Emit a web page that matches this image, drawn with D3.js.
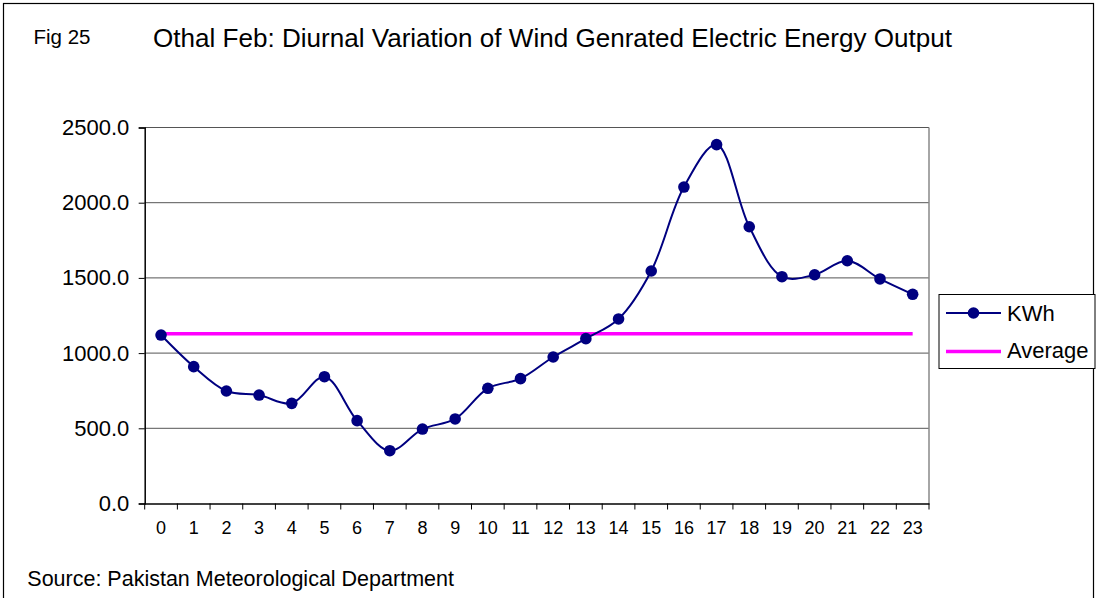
<!DOCTYPE html>
<html><head><meta charset="utf-8">
<script src="https://cdn.jsdelivr.net/npm/d3@7"></script>
<style>body{margin:0;background:#fff;} svg{display:block;} text{font-family:"Liberation Sans",Arial,sans-serif;fill:#000;}</style>
</head><body>
<script>
const hours = d3.range(0, 24).map(String);
const kwh = [1120, 910, 748, 721, 666, 843, 551, 351, 495, 562, 766, 830, 974, 1096, 1227, 1546, 2104, 2386, 1840, 1508, 1521, 1614, 1493, 1391];
const average = 1129;
const yTicks = [0, 500, 1000, 1500, 2000, 2500];
const seriesNames = ["KWh", "Average"];

const W = 1097, H = 598;
const svg = d3.select("body").append("svg").attr("width", W).attr("height", H);
svg.append("rect").attr("x", 3.5).attr("y", 3.5).attr("width", 1090).attr("height", 610)
  .attr("fill", "#fff").attr("stroke", "#000").attr("stroke-width", 1.2);

const L = 144.7, R = 929, T = 127.5, B = 503.5;
const x = d3.scaleBand().domain(hours).range([L, R]);
const y = d3.scaleLinear().domain([0, 2500]).range([B, T]);

// gridlines
svg.append("g").selectAll("line").data(yTicks.filter(d => d > 0)).join("line")
  .attr("x1", L).attr("x2", R).attr("y1", d => y(d)).attr("y2", d => y(d))
  .attr("stroke", "#555").attr("stroke-width", 1);
svg.append("line").attr("x1", R).attr("x2", R).attr("y1", T).attr("y2", B).attr("stroke", "#888").attr("stroke-width", 1.5);

// y axis
const ya = svg.append("g").attr("transform", `translate(${L},0)`)
  .call(d3.axisLeft(y).tickValues(yTicks).tickFormat(d3.format(".1f")).tickSize(6).tickPadding(9.4));
ya.select(".domain").attr("stroke", "#000").attr("stroke-width", 1.5);
ya.selectAll(".tick line").attr("stroke", "#000");
ya.selectAll("text").style("font-size", "22px").style("font-family", "Liberation Sans, Arial, sans-serif");

// x axis
const xa = svg.append("g").attr("transform", `translate(0,${B})`)
  .call(d3.axisBottom(x).tickSize(0).tickPadding(17.5));
xa.select(".domain").attr("stroke", "#000").attr("stroke-width", 1.5);
xa.selectAll("text").style("font-size", "18px").style("font-family", "Liberation Sans, Arial, sans-serif");
const bounds = hours.map(h => x(h)).concat([R]);
svg.append("g").selectAll("line").data(bounds).join("line")
  .attr("x1", d => d).attr("x2", d => d).attr("y1", B).attr("y2", B + 6)
  .attr("stroke", "#000").attr("stroke-width", 1);

const cx = h => x(h) + x.bandwidth() / 2;

// average line
svg.append("line").attr("x1", cx(hours[0])).attr("x2", cx(hours[hours.length - 1]))
  .attr("y1", y(average)).attr("y2", y(average))
  .attr("stroke", "#ff00ff").attr("stroke-width", 3.5);

// kwh line
const line = d3.line().x((d, i) => cx(hours[i])).y(d => y(d)).curve(d3.curveCatmullRom.alpha(0.5));
svg.append("path").datum(kwh).attr("d", line).attr("fill", "none")
  .attr("stroke", "#000080").attr("stroke-width", 2);
svg.append("g").selectAll("circle").data(kwh).join("circle")
  .attr("cx", (d, i) => cx(hours[i])).attr("cy", d => y(d)).attr("r", 5.8).attr("fill", "#000080");

// titles
svg.append("text").attr("x", 33.5).attr("y", 44).style("font-size", "20.5px").text("Fig 25");
svg.append("text").attr("x", 153).attr("y", 47).style("font-size", "26px")
  .attr("textLength", 799).attr("lengthAdjust", "spacingAndGlyphs")
  .text("Othal Feb: Diurnal Variation of Wind Genrated Electric Energy Output");
svg.append("text").attr("x", 27.3).attr("y", 586).style("font-size", "21.5px").text("Source: Pakistan Meteorological Department");

// legend
const lg = svg.append("g");
lg.append("rect").attr("x", 939).attr("y", 294.5).attr("width", 156).attr("height", 74)
  .attr("fill", "#fff").attr("stroke", "#000").attr("stroke-width", 1);
lg.append("line").attr("x1", 946).attr("x2", 1001).attr("y1", 313).attr("y2", 313).attr("stroke", "#000080").attr("stroke-width", 2);
lg.append("circle").attr("cx", 973.5).attr("cy", 313).attr("r", 5.8).attr("fill", "#000080");
lg.append("line").attr("x1", 946).attr("x2", 1001).attr("y1", 351.5).attr("y2", 351.5).attr("stroke", "#ff00ff").attr("stroke-width", 3.5);
lg.append("text").attr("x", 1007).attr("y", 321).style("font-size", "22px").text(seriesNames[0]);
lg.append("text").attr("x", 1007).attr("y", 358).style("font-size", "22px").text(seriesNames[1]);
</script>
</body></html>
